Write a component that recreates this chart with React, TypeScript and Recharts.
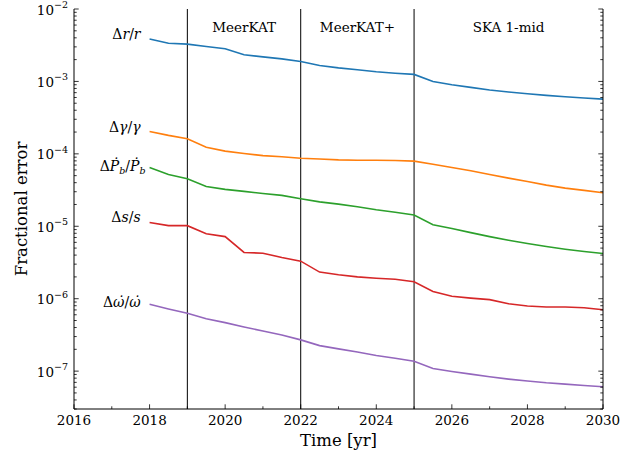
import React from "react";
import {
  LineChart,
  Line,
  XAxis,
  YAxis,
  ReferenceLine,
  ReferenceArea,
  LabelList,
} from "recharts";

// half-year sampling, values
const years = [
  2018, 2018.5, 2019, 2019.5, 2020, 2020.5, 2021, 2021.5, 2022, 2022.5, 2023,
  2023.5, 2024, 2024.5, 2025, 2025.5, 2026, 2026.5, 2027, 2027.5, 2028, 2028.5,
  2029, 2029.5, 2030,
];
const errR = [
  3.86e-3, 3.37e-3, 3.27e-3, 3.03e-3, 2.82e-3, 2.33e-3, 2.18e-3, 2.05e-3,
  1.88e-3, 1.66e-3, 1.54e-3, 1.45e-3, 1.36e-3, 1.3e-3, 1.25e-3, 1.0e-3, 9.0e-4,
  8.27e-4, 7.6e-4, 7.13e-4, 6.76e-4, 6.41e-4, 6.15e-4, 5.9e-4, 5.7e-4,
];
const errGamma = [
  2.03e-4, 1.8e-4, 1.62e-4, 1.23e-4, 1.09e-4, 1.01e-4, 9.46e-5, 9.1e-5, 8.7e-5,
  8.5e-5, 8.26e-5, 8.17e-5, 8.17e-5, 8.1e-5, 7.93e-5, 7.2e-5, 6.48e-5, 5.84e-5,
  5.19e-5, 4.62e-5, 4.16e-5, 3.7e-5, 3.36e-5, 3.13e-5, 2.9e-5,
];
const errPb = [
  6.48e-5, 5.19e-5, 4.53e-5, 3.55e-5, 3.23e-5, 3.03e-5, 2.84e-5, 2.67e-5, 2.4e-5,
  2.17e-5, 2.02e-5, 1.86e-5, 1.69e-5, 1.56e-5, 1.43e-5, 1.05e-5, 9.3e-6,
  8.18e-6, 7.2e-6, 6.41e-6, 5.78e-6, 5.25e-6, 4.82e-6, 4.48e-6, 4.2e-6,
];
const errS = [
  1.13e-5, 1.02e-5, 1.02e-5, 7.9e-6, 7.2e-6, 4.35e-6, 4.25e-6, 3.71e-6, 3.3e-6,
  2.33e-6, 2.14e-6, 2.0e-6, 1.92e-6, 1.86e-6, 1.71e-6, 1.26e-6, 1.08e-6,
  1.02e-6, 9.7e-7, 8.53e-7, 7.93e-7, 7.68e-7, 7.68e-7, 7.5e-7, 7.05e-7,
];
const errOmega = [
  8.36e-7, 7.2e-7, 6.28e-7, 5.3e-7, 4.67e-7, 4.07e-7, 3.59e-7, 3.16e-7, 2.7e-7,
  2.25e-7, 2.03e-7, 1.84e-7, 1.64e-7, 1.51e-7, 1.37e-7, 1.09e-7, 9.9e-8, 9.1e-8,
  8.36e-8, 7.76e-8, 7.3e-8, 6.9e-8, 6.62e-8, 6.34e-8, 6.08e-8,
];

const xTicks = [
  2016, 2017, 2018, 2019, 2020, 2021, 2022, 2023, 2024, 2025, 2026, 2027, 2028,
  2029, 2030,
];
const phaseEdges = [2019, 2022, 2025];
const phases = [
  { from: 2019, to: 2022, name: "MeerKAT" },
  { from: 2022, to: 2025, name: "MeerKAT+" },
  { from: 2025, to: 2030, name: "SKA 1-mid" },
];
const yDomain: [number, number] = [3e-8, 1e-2];

// log ticks: majors at decades, minors at 2..9 x decade
const yTicks: number[] = [];
for (let k = -8; k <= -2; k++) {
  for (let m = 1; m <= 9; m++) {
    const v = Number((m * Math.pow(10, k)).toPrecision(3));
    if (v >= yDomain[0] && v <= yDomain[1]) yTicks.push(v);
  }
}

const data = years.map((year, i) => ({
  year,
  r: errR[i],
  gamma: errGamma[i],
  pb: errPb[i],
  s: errS[i],
  omega: errOmega[i],
}));

const FONT = "'DejaVu Serif', serif";
const textStyle = { fontFamily: FONT };
const M = 5; // tickMargin used to locate the axis line from the tick props
const MAJOR = 4.7;
const MINOR = 2.7;

const isDecade = (v: number) => {
  const e = Math.round(Math.log10(v));
  return Math.abs(v - Math.pow(10, e)) / v < 1e-6;
};

const LeftTick = (props: any) => {
  const { x, y, payload } = props;
  const v = payload.value;
  const major = isDecade(v);
  const ax = x + M;
  const e = Math.round(Math.log10(v));
  return (
    <g>
      <line x1={ax} x2={ax + (major ? MAJOR : MINOR)} y1={y} y2={y} stroke="#000" strokeWidth={0.8} />
      {major && (
        <text x={x - 1} y={y + 5.5} textAnchor="end" fontSize={13.5} style={textStyle} fill="#000">
          10
          <tspan dy={-6.5} fontSize={9.5}>
            {"\u2212" + -e}
          </tspan>
        </text>
      )}
    </g>
  );
};

const RightTick = (props: any) => {
  const { x, y, payload } = props;
  const ax = x - M;
  const len = isDecade(payload.value) ? MAJOR : MINOR;
  return <line x1={ax} x2={ax - len} y1={y} y2={y} stroke="#000" strokeWidth={0.8} />;
};

const BottomTick = (props: any) => {
  const { x, y, payload } = props;
  const ay = y - M;
  const major = payload.value % 2 === 0;
  return (
    <g>
      <line x1={x} x2={x} y1={ay} y2={ay - (major ? MAJOR : MINOR)} stroke="#000" strokeWidth={0.8} />
      {major && (
        <text x={x} y={ay + 16} textAnchor="middle" fontSize={13.5} style={textStyle} fill="#000">
          {payload.value}
        </text>
      )}
    </g>
  );
};

const TopTick = (props: any) => {
  const { x, y, payload } = props;
  const ay = y + M;
  const len = payload.value % 2 === 0 ? MAJOR : MINOR;
  return <line x1={x} x2={x} y1={ay} y2={ay + len} stroke="#000" strokeWidth={0.8} />;
};

const it = { fontStyle: "italic" } as const;

const labelR = (
  <>
    Δ<tspan style={it}>r</tspan>/<tspan style={it}>r</tspan>
  </>
);
const labelGamma = (
  <>
    Δ<tspan style={it}>γ</tspan>/<tspan style={it}>γ</tspan>
  </>
);
const labelPb = (
  <>
    Δ<tspan style={it}>{"\u1E56"}</tspan>
    <tspan style={it} fontSize={9.5} dy={3}>b</tspan>
    <tspan dy={-3}>/</tspan>
    <tspan style={it}>{"\u1E56"}</tspan>
    <tspan style={it} fontSize={9.5} dy={3}>b</tspan>
  </>
);
const labelS = (
  <>
    Δ<tspan style={it}>s</tspan>/<tspan style={it}>s</tspan>
  </>
);
const labelOmega = (
  <>
    Δ<tspan style={it}>{"\u03C9\u0307"}</tspan>/<tspan style={it}>{"\u03C9\u0307"}</tspan>
  </>
);

const series = [
  { key: "r", color: "#1f77b4", label: labelR, dx: 9, dy: 0 },
  { key: "gamma", color: "#ff7f0e", label: labelGamma, dx: 9, dy: 0 },
  { key: "pb", color: "#2ca02c", label: labelPb, dx: 4, dy: 4 },
  { key: "s", color: "#d62728", label: labelS, dx: 9, dy: 0 },
  { key: "omega", color: "#9467bd", label: labelOmega, dx: 9, dy: 3 },
];

const startLabel = (content: React.ReactNode, dx: number, dy: number) => (props: any) => {
  if (props.index !== 0) return null;
  return (
    <text
      x={props.x - dx}
      y={props.y + dy}
      textAnchor="end"
      fontSize={14}
      style={textStyle}
      fill="#000"
    >
      {content}
    </text>
  );
};

const YTitle = (props: any) => {
  const { viewBox } = props;
  const cx = viewBox.x + 21.5;
  const cy = viewBox.y + viewBox.height / 2;
  return (
    <text
      x={cx}
      y={cy}
      transform={`rotate(-90 ${cx} ${cy})`}
      textAnchor="middle"
      dominantBaseline="central"
      fontSize={16.5}
      style={textStyle}
      fill="#000"
    >
      Fractional error
    </text>
  );
};

const App: React.FC = () => {
  return (
    <div style={{ width: 638, height: 452, background: "#fff" }}>
      <style>{"body{margin:0}"}</style>
      <LineChart
        width={638}
        height={452}
        data={data}
        margin={{ top: 9, right: 0, bottom: 0, left: 0 }}
        style={{ fontFamily: FONT }}
      >
        <XAxis
          dataKey="year"
          type="number"
          domain={[2016, 2030]}
          ticks={xTicks}
          interval={0}
          height={43}
          tickSize={0}
          tickMargin={M}
          tickLine={false}
          tick={<BottomTick />}
          axisLine={{ stroke: "#000", strokeWidth: 1 }}
          label={{
            value: "Time [yr]",
            position: "insideBottom",
            offset: 6,
            fontSize: 16.5,
            fill: "#000",
            fontFamily: FONT,
          }}
        />
        <XAxis
          xAxisId="top"
          orientation="top"
          dataKey="year"
          type="number"
          domain={[2016, 2030]}
          ticks={xTicks}
          interval={0}
          height={0}
          tickSize={0}
          tickMargin={M}
          tickLine={false}
          tick={<TopTick />}
          axisLine={{ stroke: "#000", strokeWidth: 1 }}
        />
        <YAxis
          scale="log"
          type="number"
          domain={yDomain}
          allowDataOverflow
          ticks={yTicks}
          interval={0}
          width={74}
          tickSize={0}
          tickMargin={M}
          tickLine={false}
          tick={<LeftTick />}
          axisLine={{ stroke: "#000", strokeWidth: 1 }}
          label={<YTitle />}
        />
        <YAxis
          yAxisId="right"
          orientation="right"
          scale="log"
          type="number"
          domain={yDomain}
          allowDataOverflow
          ticks={yTicks}
          interval={0}
          width={35}
          tickSize={0}
          tickMargin={M}
          tickLine={false}
          tick={<RightTick />}
          axisLine={{ stroke: "#000", strokeWidth: 1 }}
        />
        {phases.map((p) => (
          <ReferenceArea
            key={p.name}
            x1={p.from}
            x2={p.to}
            fill="none"
            fillOpacity={0}
            stroke="none"
            label={{
              value: p.name,
              position: "insideTop",
              offset: 13,
              fontSize: 13.5,
              fill: "#000",
              fontFamily: FONT,
            }}
          />
        ))}
        {phaseEdges.map((x) => (
          <ReferenceLine key={x} x={x} stroke="#000" strokeWidth={1} />
        ))}
        {series.map((s) => (
          <Line
            key={s.key}
            dataKey={s.key}
            type="linear"
            stroke={s.color}
            strokeWidth={1.6}
            dot={false}
            isAnimationActive={false}
          >
            <LabelList dataKey={s.key} content={startLabel(s.label, s.dx, s.dy)} />
          </Line>
        ))}
      </LineChart>
    </div>
  );
};

export default App;
